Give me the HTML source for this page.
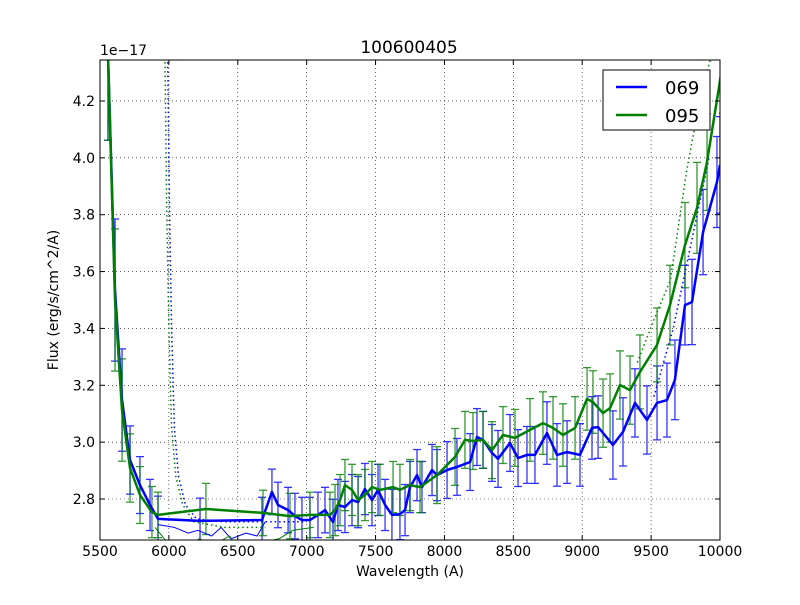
<!DOCTYPE html>
<html><head><meta charset="utf-8"><style>
body{margin:0;background:#fff;font-family:"Liberation Sans","DejaVu Sans",sans-serif}
svg text{font-family:"DejaVu Sans","Liberation Sans",sans-serif}
</style></head><body>
<svg id="chart" width="800" height="600" xmlns="http://www.w3.org/2000/svg">
<rect width="800" height="600" fill="#fff"/>
<defs><clipPath id="clip"><rect x="100" y="60" width="620" height="480"/></clipPath></defs>
<g id="grid"></g>
<g id="series" clip-path="url(#clip)"></g>
<rect x="100" y="60" width="620" height="480" fill="none" stroke="#000" stroke-width="1"/>
<g id="ticks"></g>
<text x="409" y="53" font-size="17" text-anchor="middle">100600405</text>
<text x="100" y="55" font-size="14">1e−17</text>
<text x="410" y="576" font-size="14" text-anchor="middle">Wavelength (A)</text>
<text x="58" y="300" font-size="14" text-anchor="middle" transform="rotate(-90 58 300)">Flux (erg/s/cm^2/A)</text>
<g>
<rect x="603" y="70" width="107" height="60" fill="#fff" stroke="#000"/>
<line x1="616" y1="87" x2="647" y2="87" stroke="#0000ff" stroke-width="2.5"/>
<text x="665" y="94" font-size="18">069</text>
<line x1="616" y1="115" x2="647" y2="115" stroke="#008000" stroke-width="2.5"/>
<text x="665" y="122" font-size="18">095</text>
</g>
</svg>
<script>
const xTicks=[5500,6000,6500,7000,7500,8000,8500,9000,9500,10000];
const yTicks=[2.8,3.0,3.2,3.4,3.6,3.8,4.0,4.2];
const yTickLabels=["2.8","3.0","3.2","3.4","3.6","3.8","4.0","4.2"];
const blueW=[5558,5609,5660,5718,5790,5863,5921,6226,6676,6748,6792,6865,6915,6966,7024,7082,7133,7191,7227,7278,7329,7373,7423,7474,7518,7569,7619,7677,7714,7750,7801,7837,7910,7946,8019,8091,8186,8236,8280,8345,8389,8476,8534,8599,8657,8744,8817,8890,8984,9071,9115,9223,9296,9383,9470,9543,9615,9673,9746,9797,9877,9978,10000];
const blueF=[4.362,3.535,3.148,2.937,2.849,2.779,2.730,2.723,2.726,2.825,2.779,2.761,2.740,2.726,2.726,2.744,2.761,2.719,2.779,2.772,2.796,2.789,2.835,2.796,2.832,2.779,2.744,2.747,2.761,2.842,2.884,2.842,2.902,2.884,2.902,2.913,2.930,3.018,3.008,2.962,2.941,2.997,2.944,2.955,2.955,3.032,2.955,2.965,2.955,3.050,3.053,2.990,3.036,3.138,3.078,3.138,3.148,3.219,3.482,3.493,3.739,3.915,3.975];
const blueE=[0.3,0.25,0.18,0.12,0.1,0.09,0.08,0.08,0.08,0.08,0.08,0.08,0.08,0.08,0.08,0.08,0.08,0.08,0.09,0.09,0.09,0.09,0.09,0.09,0.09,0.09,0.09,0.09,0.09,0.09,0.09,0.09,0.09,0.09,0.1,0.1,0.1,0.1,0.1,0.1,0.1,0.1,0.1,0.1,0.1,0.11,0.11,0.11,0.11,0.11,0.11,0.12,0.12,0.12,0.12,0.13,0.13,0.14,0.14,0.15,0.15,0.16,0.17];
const greenW=[5558,5609,5660,5718,5790,5877,5921,6269,6683,6879,7024,7169,7206,7242,7278,7329,7373,7423,7474,7532,7627,7677,7750,7823,7946,8077,8149,8207,8280,8345,8425,8512,8621,8715,8788,8860,8948,9035,9078,9151,9202,9274,9347,9419,9543,9637,9746,9833,9906,10022];
const greenF=[4.362,3.500,3.113,2.909,2.814,2.754,2.744,2.765,2.751,2.740,2.744,2.744,2.761,2.796,2.849,2.832,2.796,2.814,2.842,2.832,2.842,2.832,2.849,2.842,2.884,2.948,3.008,3.004,3.008,2.972,3.025,3.015,3.043,3.067,3.050,3.025,3.050,3.152,3.141,3.102,3.120,3.201,3.183,3.247,3.342,3.482,3.693,3.824,3.985,4.337];
const greenE=[0.3,0.25,0.18,0.12,0.1,0.09,0.08,0.09,0.08,0.08,0.08,0.08,0.09,0.09,0.09,0.09,0.09,0.09,0.09,0.09,0.09,0.09,0.09,0.09,0.1,0.1,0.1,0.1,0.1,0.1,0.1,0.1,0.11,0.11,0.11,0.11,0.11,0.11,0.11,0.12,0.12,0.12,0.12,0.13,0.13,0.14,0.15,0.16,0.17,0.18];
const blueThinW=[5921,6040,6140,6210,6310,6380,6450,6560,6640,6700];
const blueThinF=[2.71,2.70,2.68,2.69,2.67,2.70,2.66,2.68,2.67,2.72];
const greenThinW=[5900,6000,6100,6220,6330,6440,6520,6620,6700,6800,6900,7050];
const greenThinF=[2.70,2.64,2.62,2.66,2.64,2.67,2.62,2.64,2.65,2.66,2.69,2.70];
const blueDotW=[5990,6005,6020,6040,6070,6120,6200,6400,6700,7000];
const blueDotF=[4.40,3.80,3.40,3.05,2.88,2.78,2.73,2.72,2.72,2.72];
const greenDotW=[5970,5985,6000,6020,6050,6100,6180,6400,6700];
const greenDotF=[4.40,3.80,3.40,3.05,2.88,2.78,2.72,2.70,2.70];
const greenDot2W=[9400,9520,9640,9760,9860,9960];
const greenDot2F=[3.28,3.43,3.57,3.96,4.22,4.40];
const blueDot2W=[9520,9660,9800,9920];
const blueDot2F=[3.16,3.40,3.72,4.00];

const X=w=>100+(w-5500)*620/4500;
const Y=f=>499-(f-2.8)*284.3;
const NS="http://www.w3.org/2000/svg";
function mk(tag,parent,attrs){const e=document.createElementNS(NS,tag);for(const k in attrs)e.setAttribute(k,attrs[k]);parent.appendChild(e);return e;}
const grid=document.getElementById('grid'),ticks=document.getElementById('ticks'),ser=document.getElementById('series');
xTicks.forEach(t=>{const x=X(t);
 let g=mk('line',grid,{x1:x,y1:60,x2:x,y2:540,stroke:'#000','stroke-width':0.6,'stroke-dasharray':'1,3'});
 
 mk('line',ticks,{x1:x,y1:540,x2:x,y2:535,stroke:'#000'});mk('line',ticks,{x1:x,y1:60,x2:x,y2:65,stroke:'#000'});
 let tx=mk('text',ticks,{x:x,y:556,'font-size':14,'text-anchor':'middle'});tx.textContent=t;
 });
yTicks.forEach((t,i)=>{const y=Y(t);
 let g=mk('line',grid,{x1:100,y1:y,x2:720,y2:y,stroke:'#000','stroke-width':0.6,'stroke-dasharray':'1,3'});
 
 mk('line',ticks,{x1:100,y1:y,x2:105,y2:y,stroke:'#000'});mk('line',ticks,{x1:720,y1:y,x2:715,y2:y,stroke:'#000'});
 let tx=mk('text',ticks,{x:95,y:y+5,'font-size':14,'text-anchor':'end'});tx.textContent=yTickLabels[i];
 });
function line(W,F,color,width,dash,name){const p=W.map((w,i)=>X(w).toFixed(1)+','+Y(F[i]).toFixed(1)).join(' ');
 const a={points:p,fill:'none',stroke:color,'stroke-width':width,'stroke-linejoin':'round'};if(dash)a['stroke-dasharray']=dash;
 const e=mk('polyline',ser,a);}
function errs(W,F,E,color,name){W.forEach((w,i)=>{const x=X(w),y1=Y(F[i]+E[i]),y2=Y(F[i]-E[i]);
 const g=mk('g',ser,{stroke:color,'stroke-width':1.3,opacity:0.8});
 
 mk('line',g,{x1:x,y1:y1,x2:x,y2:y2});mk('line',g,{x1:x-4,y1:y1,x2:x+4,y2:y1});mk('line',g,{x1:x-4,y1:y2,x2:x+4,y2:y2});});}
errs(blueW,blueF,blueE,'#0000ff','error-bar-069');
errs(greenW,greenF,greenE,'#008000','error-bar-095');
line(blueThinW,blueThinF,'#0000ff',1,null,'raw-line-069');
line(greenThinW,greenThinF,'#008000',1,null,'raw-line-095');
line(blueDotW,blueDotF,'#0000ff',1.5,'1.5,3','model-line-069');
line(greenDotW,greenDotF,'#008000',1.5,'1.5,3','model-line-095');
line(greenDot2W,greenDot2F,'#008000',1.5,'1.5,3','model-tail-095');
line(blueDot2W,blueDot2F,'#0000ff',1.5,'1.5,3','model-tail-069');
line(blueW,blueF,'#0000ff',2.5,null,'series-069');
line(greenW,greenF,'#008000',2.5,null,'series-095');
</script>
</body></html>
